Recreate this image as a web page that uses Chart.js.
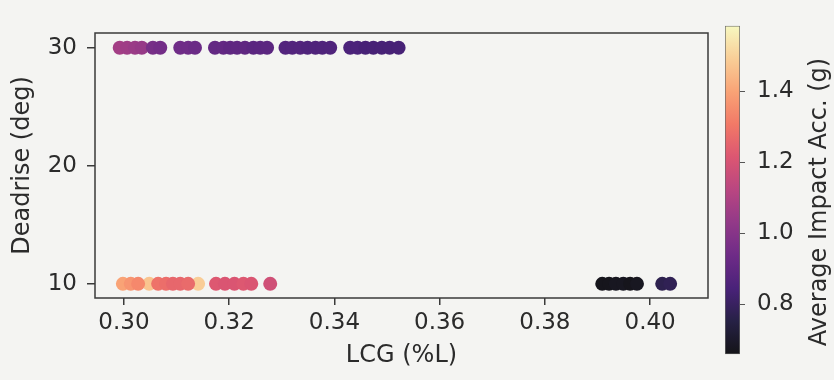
<!DOCTYPE html>
<html>
<head>
<meta charset="utf-8">
<script src="https://cdn.jsdelivr.net/npm/chart.js@4.4.1/dist/chart.umd.min.js"></script>
<style>
  html, body { margin: 0; padding: 0; background: #f4f4f2; }
  #wrap { position: relative; width: 834px; height: 380px; }
  #main { position: absolute; left: 0; top: 0; }
  #cbar { position: absolute; left: 700px; top: 0; }
</style>
</head>
<body>
<div id="wrap">
  <canvas id="main" width="834" height="380"></canvas>
  <canvas id="cbar" width="134" height="380"></canvas>
</div>
<script>
// LCG (fraction of L), deadrise (deg), average impact acceleration (g)
const lcg = [
  0.2992, 0.3006, 0.3021, 0.3034, 0.3055, 0.3069, 0.3107, 0.3122, 0.3135,
  0.3173, 0.3189, 0.3202, 0.3215, 0.3230, 0.3246, 0.3259, 0.3272,
  0.3307, 0.3320, 0.3335, 0.3349, 0.3364, 0.3377, 0.3392,
  0.3430, 0.3444, 0.3459, 0.3474, 0.3490, 0.3505, 0.3522,
  0.3048, 0.3141, 0.2998, 0.3013, 0.3027, 0.3065, 0.3080, 0.3093, 0.3107, 0.3122,
  0.3175, 0.3192, 0.3210, 0.3227, 0.3242, 0.3278,
  0.3909, 0.3922, 0.3935, 0.3949, 0.3962, 0.3975, 0.4023, 0.4038
];
const deadrise = [
  30, 30, 30, 30, 30, 30, 30, 30, 30,
  30, 30, 30, 30, 30, 30, 30, 30,
  30, 30, 30, 30, 30, 30, 30,
  30, 30, 30, 30, 30, 30, 30,
  10, 10, 10, 10, 10, 10, 10, 10, 10, 10,
  10, 10, 10, 10, 10, 10,
  10, 10, 10, 10, 10, 10, 10, 10
];
const impactAcc = [
  1.07, 1.06, 1.05, 1.04, 0.96, 0.95, 0.94, 0.94, 0.93,
  0.91, 0.91, 0.90, 0.90, 0.90, 0.89, 0.89, 0.89,
  0.87, 0.87, 0.87, 0.86, 0.86, 0.86, 0.86,
  0.85, 0.85, 0.84, 0.84, 0.84, 0.84, 0.84,
  1.47, 1.49, 1.40, 1.37, 1.34, 1.29, 1.28, 1.26, 1.26, 1.27,
  1.22, 1.21, 1.21, 1.22, 1.21, 1.18,
  0.67, 0.67, 0.68, 0.68, 0.67, 0.68, 0.77, 0.78
];
const xTicks = [0.30, 0.32, 0.34, 0.36, 0.38, 0.40];
const yTicks = [10, 20, 30];
const cbTicks = [0.8, 1.0, 1.2, 1.4];
const cbRange = [0.66, 1.585];

// magma colormap, a touch washed out like the printed photo
const magmaStops = ['#000004', '#140e36', '#3b0f70', '#641a80', '#8c2981', '#b73779',
                    '#de4968', '#f7705c', '#fe9f6d', '#fecf92', '#fcfdbf'];
const hex = h => [1, 3, 5].map(i => parseInt(h.substr(i, 2), 16));
function magma(t) {
  t = Math.max(0, Math.min(1, t));
  const f = t * (magmaStops.length - 1);
  const i = Math.min(Math.floor(f), magmaStops.length - 2);
  const a = hex(magmaStops[i]), b = hex(magmaStops[i + 1]);
  const k = f - i;
  const c = a.map((v, j) => v + (b[j] - v) * k).map(v => Math.round(v * 0.9 + 0.1 * 200));
  return `rgb(${c[0]},${c[1]},${c[2]})`;
}
const norm = v => (v - cbRange[0]) / (cbRange[1] - cbRange[0]);

const FONT = 'DejaVu Sans';
const TXT = '#2b2b2b';
const LINE = '#3a3a3a';

const framePlugin = {
  id: 'frame',
  afterDraw(chart) {
    const { ctx, chartArea: a } = chart;
    ctx.save();
    ctx.strokeStyle = LINE;
    ctx.lineWidth = 1.5;
    ctx.strokeRect(a.left, a.top, a.right - a.left, a.bottom - a.top);
    ctx.restore();
  }
};

new Chart(document.getElementById('main'), {
  type: 'scatter',
  data: {
    datasets: [{
      data: lcg.map((x, i) => ({ x: x, y: deadrise[i] })),
      pointRadius: 7,
      pointHoverRadius: 7,
      pointBorderWidth: 0,
      pointBackgroundColor: impactAcc.map(v => magma(norm(v)))
    }]
  },
  options: {
    responsive: false,
    animation: false,
    layout: { padding: { top: 33, right: 126, left: 0, bottom: 0 } },
    plugins: { legend: { display: false }, tooltip: { enabled: false } },
    scales: {
      x: {
        type: 'linear',
        min: 0.2945,
        max: 0.411,
        afterBuildTicks: s => { s.ticks = xTicks.map(v => ({ value: v })); },
        afterFit: s => { s.height = 82; },
        grid: { drawOnChartArea: false, drawTicks: true, tickLength: 7, color: LINE, lineWidth: 1.5 },
        border: { display: false },
        ticks: {
          color: TXT, font: { family: FONT, size: 23 }, padding: 4, maxRotation: 0,
          callback: v => v.toFixed(2)
        },
        title: {
          display: true, text: 'LCG (%L)', color: TXT,
          font: { family: FONT, size: 24 }, padding: { top: 0, bottom: 10 }
        }
      },
      y: {
        min: 8.8,
        max: 31.25,
        afterBuildTicks: s => { s.ticks = yTicks.map(v => ({ value: v })); },
        afterFit: s => { s.width = 95; },
        grid: { drawOnChartArea: false, drawTicks: true, tickLength: 8, color: LINE, lineWidth: 1.5 },
        border: { display: false },
        ticks: { color: TXT, font: { family: FONT, size: 23 }, padding: 10 },
        title: {
          display: true, text: 'Deadrise (deg)', color: TXT,
          font: { family: FONT, size: 24 }, padding: { top: 8, bottom: 0 }
        }
      }
    }
  },
  plugins: [framePlugin]
});

const cbTitle = {
  id: 'cbTitle',
  afterDraw(chart) {
    const { ctx, chartArea: a } = chart;
    ctx.save();
    ctx.translate(120, (a.top + a.bottom) / 2 + 12);
    ctx.rotate(-Math.PI / 2);
    ctx.fillStyle = TXT;
    ctx.font = `24px "${FONT}"`;
    ctx.textAlign = 'center';
    ctx.textBaseline = 'middle';
    ctx.fillText('Average Impact Acc. (g)', 0, 0);
    ctx.restore();
  }
};

new Chart(document.getElementById('cbar'), {
  type: 'bar',
  data: {
    labels: [''],
    datasets: [{
      data: [cbRange],
      barPercentage: 1,
      categoryPercentage: 1,
      borderWidth: 1,
      borderColor: '#666',
      borderSkipped: false,
      backgroundColor: ctx => {
        const a = ctx.chart.chartArea;
        if (!a) return '#888';
        const g = ctx.chart.ctx.createLinearGradient(0, a.bottom, 0, a.top);
        for (let i = 0; i <= 20; i++) g.addColorStop(i / 20, magma(i / 20));
        return g;
      }
    }]
  },
  options: {
    responsive: false,
    animation: false,
    layout: { padding: { top: 10, bottom: 8, left: 25, right: 0 } },
    plugins: { legend: { display: false }, tooltip: { enabled: false } },
    scales: {
      x: { display: false },
      y: {
        position: 'right',
        min: cbRange[0],
        max: cbRange[1],
        afterBuildTicks: s => { s.ticks = cbTicks.map(v => ({ value: v })); },
        afterFit: s => { s.width = 94; },
        grid: { drawOnChartArea: false, drawTicks: true, tickLength: 5, color: '#555', lineWidth: 1 },
        border: { display: false },
        ticks: { color: TXT, font: { family: FONT, size: 23 }, padding: 12, callback: v => v.toFixed(1) }
      }
    }
  },
  plugins: [cbTitle]
});
</script>
</body>
</html>
